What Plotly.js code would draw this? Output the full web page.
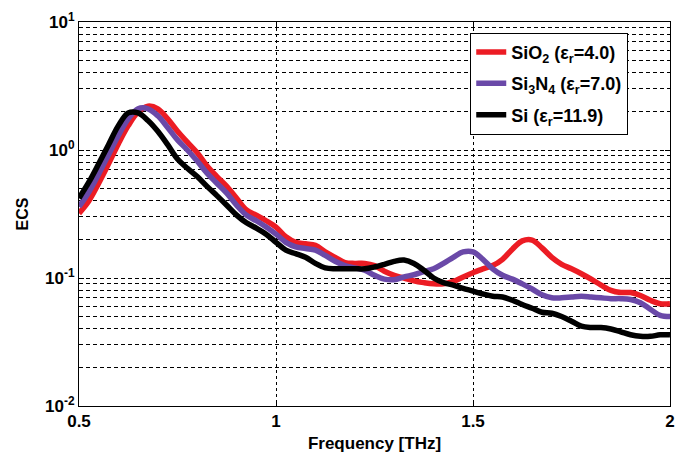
<!DOCTYPE html>
<html>
<head>
<meta charset="utf-8">
<script src="https://cdn.plot.ly/plotly-3.0.1.min.js"></script>
<style>html,body{margin:0;padding:0;background:#fff;}#chart{width:694px;height:462px;}</style>
</head>
<body>
<div id="chart"></div>
<script>
const freq = [0.500,0.525,0.550,0.575,0.600,0.625,0.650,0.675,0.700,0.725,0.750,0.775,0.800,0.825,0.850,0.875,0.900,0.925,0.950,0.975,
1.000,1.025,1.050,1.075,1.100,1.125,1.150,1.175,1.200,1.225,1.250,1.275,1.300,1.325,1.350,1.375,1.400,1.425,1.450,1.475,
1.500,1.525,1.550,1.575,1.600,1.625,1.650,1.675,1.700,1.725,1.750,1.775,1.800,1.825,1.850,1.875,1.900,1.925,1.950,1.975,2.000];

const ecsSiO2 = [0.32,0.40,0.55,0.78,1.12,1.55,1.98,2.2,2.1,1.75,1.4,1.15,0.95,0.75,0.62,0.52,0.42,0.34,0.31,0.28,
0.25,0.21,0.19,0.185,0.18,0.16,0.145,0.132,0.13,0.13,0.125,0.113,0.105,0.10,0.095,0.092,0.09,0.09,0.094,0.102,
0.11,0.118,0.125,0.14,0.168,0.195,0.198,0.172,0.145,0.128,0.118,0.108,0.098,0.088,0.08,0.077,0.077,0.073,0.067,0.063,0.063];

const ecsSi3N4 = [0.36,0.47,0.65,0.92,1.3,1.75,2.1,2.1,1.85,1.5,1.2,1.0,0.82,0.66,0.55,0.46,0.37,0.31,0.28,0.25,
0.22,0.19,0.175,0.17,0.165,0.15,0.135,0.125,0.12,0.115,0.105,0.098,0.097,0.102,0.106,0.112,0.118,0.13,0.145,0.16,
0.16,0.14,0.118,0.105,0.098,0.09,0.082,0.074,0.07,0.07,0.071,0.072,0.071,0.07,0.069,0.069,0.068,0.064,0.057,0.051,0.05];

const ecsSi = [0.42,0.56,0.78,1.1,1.55,1.95,1.95,1.7,1.4,1.1,0.85,0.72,0.62,0.52,0.44,0.37,0.31,0.27,0.245,0.22,
0.19,0.165,0.155,0.145,0.13,0.12,0.118,0.118,0.118,0.118,0.122,0.128,0.135,0.138,0.13,0.115,0.1,0.092,0.088,0.083,
0.079,0.075,0.072,0.071,0.067,0.062,0.058,0.054,0.053,0.05,0.046,0.042,0.041,0.041,0.04,0.038,0.036,0.035,0.035,0.036,0.036];

const seriesNames = ['SiO<sub>2</sub> (ε<sub>r</sub>=4.0)','Si<sub>3</sub>N<sub>4</sub> (ε<sub>r</sub>=7.0)','Si (ε<sub>r</sub>=11.9)'];
const seriesColors = ['#ec1c24','#6a49a8','#000000'];
const xTickVals = [0.5,1,1.5,2];
const xTickText = ['0.5','1','1.5','2'];
const yTickVals = [0.01,0.1,1,10];
const yTickText = ['10<sup>-2</sup>','10<sup>-1</sup>','10<sup>0</sup>','10<sup>1</sup>'];

const ys = [ecsSiO2, ecsSi3N4, ecsSi];
const traces = ys.map((y,i)=>({
  x: freq, y: y, type:'scatter', mode:'lines', name: seriesNames[i], legendgroup:'g'+i,
  line:{color:seriesColors[i], width:5.5, shape:'spline', smoothing:1}
}));

const FAM = '"Liberation Sans", Arial, sans-serif';
const layout = {
  width:694, height:462,
  margin:{l:79, r:24, t:22, b:56},
  paper_bgcolor:'#fff', plot_bgcolor:'#fff',
  font:{family:FAM, size:15, color:'#000'},
  showlegend:true,
  legend:{x:0.662, y:0.972, xanchor:'left', yanchor:'top', bgcolor:'#fff', bordercolor:'#000', borderwidth:1,
    font:{family:FAM, size:18, color:'#000', weight:'bold'}, tracegroupgap:5, entrywidth:190, entrywidthmode:'pixels'},
  xaxis:{range:[0.5,2], tickvals:xTickVals, ticktext:xTickText, showline:true, linecolor:'#000', linewidth:1, mirror:'ticks',
    ticks:'inside', ticklen:5, tickcolor:'#000', showgrid:true, gridcolor:'#000', griddash:'3px,3px', gridwidth:1, zeroline:false,
    tickfont:{family:FAM, size:17, weight:'bold'},
    title:{text:'Frequency [THz]', font:{family:FAM, size:17, weight:'bold'}, standoff:6}},
  yaxis:{type:'log', range:[-2,1], tickvals:yTickVals, ticktext:yTickText, showline:true, linecolor:'#000', linewidth:1, mirror:'ticks',
    ticks:'inside', ticklen:5, tickcolor:'#000', showgrid:true, gridcolor:'#000', griddash:'4px,3px', gridwidth:1, zeroline:false,
    minor:{dtick:'D1', showgrid:true, gridcolor:'#000', griddash:'4px,3px', gridwidth:1, ticks:''},
    tickfont:{family:FAM, size:17, weight:'bold'},
    title:{text:'ECS', font:{family:FAM, size:16, weight:'bold'}, standoff:12}}
};

Plotly.newPlot('chart', traces, layout, {displayModeBar:false, staticPlot:true});
</script>
</body>
</html>
